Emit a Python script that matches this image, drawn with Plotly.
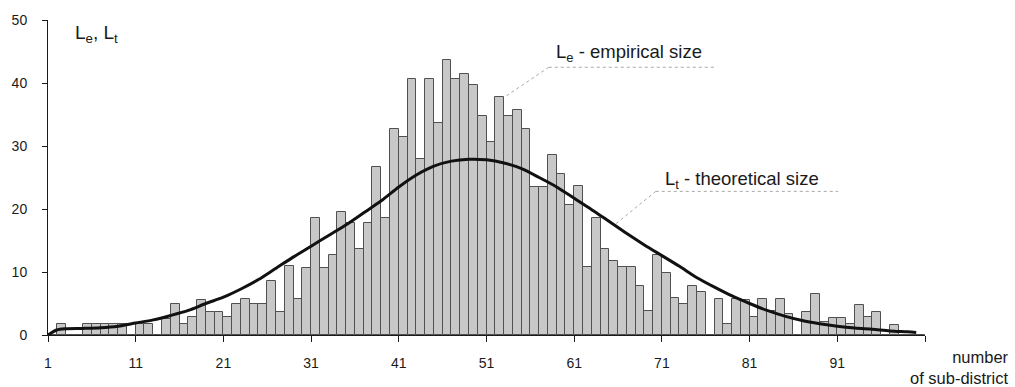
import plotly.graph_objects as go

# ---- data ----
sub_district = list(range(1, 101))
Le = [0, 1.7, 0, 0, 1.7, 1.7, 1.7, 1.7, 1.7, 0,
      1.7, 1.7, 0, 2.5, 4.9, 1.7, 2.8, 5.6, 3.7, 3.7,
      2.8, 4.9, 5.7, 4.9, 4.9, 8.6, 3.7, 11.0, 5.7, 10.7,
      18.5, 10.7, 12.7, 19.6, 17.7, 13.7, 17.7, 26.6, 18.6, 32.7,
      31.5, 40.6, 28.0, 40.6, 33.6, 43.7, 40.6, 41.5, 39.7, 34.7,
      30.7, 37.7, 34.8, 35.7, 32.7, 23.5, 23.5, 28.6, 25.5, 20.7,
      23.6, 10.8, 18.6, 13.6, 11.7, 10.8, 10.8, 7.8, 3.75, 12.7,
      9.9, 5.8, 4.95, 7.8, 6.8, 0, 5.7, 1.7, 5.7, 5.5,
      2.9, 5.7, 3.8, 5.7, 3.3, 0, 3.7, 6.5, 2.0, 2.75,
      2.75, 1.7, 4.7, 2.8, 3.6, 0, 1.6, 0, 0, 0]

Lt_x = [1, 2, 3, 5, 7, 9, 11, 13, 15, 17, 19, 21, 23, 25, 27, 29, 31, 33, 35, 37,
        39, 41, 43, 45, 47, 49, 51, 53, 55, 57, 59, 61, 63, 65, 67, 69, 71, 73, 75,
        77, 79, 81, 83, 85, 87, 89, 91, 93, 95, 97, 99, 100]
Lt = [0, 0.8, 1.0, 1.05, 1.15, 1.4, 1.9, 2.4, 3.1, 3.9, 5.0, 6.0, 7.3, 8.8, 10.6, 12.4,
      14.1, 15.8, 17.5, 19.4, 21.3, 23.5, 25.4, 26.8, 27.6, 27.9, 27.8, 27.3, 26.4, 25.0,
      23.5, 21.7, 19.9, 18.0, 16.1, 14.3, 12.6, 10.9, 9.1, 7.6, 6.2, 5.0, 3.9, 3.0, 2.3,
      1.8, 1.4, 1.1, 0.9, 0.65, 0.5, 0.4]

x_ticks = [1, 11, 21, 31, 41, 51, 61, 71, 81, 91, 101]
x_ticktext = ["1", "11", "21", "31", "41", "51", "61", "71", "81", "91", ""]
y_ticks = [0, 10, 20, 30, 40, 50]

FONT = "Liberation Sans, Arial, sans-serif"
INK = "#1a1a1a"

fig = go.Figure()
fig.add_trace(go.Bar(
    x=sub_district, y=Le, width=1, offset=0,
    marker=dict(color="#c8c8c8", line=dict(color="#505050", width=1)),
    hoverinfo="skip"))
fig.add_trace(go.Scatter(
    x=Lt_x, y=Lt, mode="lines",
    line=dict(color="#111111", width=3, shape="spline", smoothing=0.8),
    hoverinfo="skip"))

# leader lines
le_idx = 52
lt_end_x = 65.7
lt_end_y = 17.6
lead = dict(color="#a8a8a8", width=1, dash="dot")
shapes = [
    dict(type="line", xref="x", yref="y", x0=58.1, y0=42.5, x1=77.1, y1=42.5, line=lead),
    dict(type="line", xref="x", yref="y", x0=58.1, y0=42.5, x1=le_idx + 1, y1=Le[le_idx - 1], line=lead),
    dict(type="line", xref="x", yref="y", x0=70.3, y0=22.8, x1=91.1, y1=22.8, line=lead),
    dict(type="line", xref="x", yref="y", x0=70.3, y0=22.8, x1=lt_end_x, y1=lt_end_y, line=lead),
]

annotations = [
    dict(text="L<sub>e</sub> - empirical size", xref="x", yref="y", x=58.7, y=44.8,
         xanchor="left", yanchor="middle", showarrow=False,
         font=dict(family=FONT, size=18.5, color=INK)),
    dict(text="L<sub>t</sub> - theoretical size", xref="x", yref="y", x=71.1, y=24.6,
         xanchor="left", yanchor="middle", showarrow=False,
         font=dict(family=FONT, size=18.5, color=INK)),
    dict(text="L<sub>e</sub>, L<sub>t</sub>", xref="x", yref="y", x=3.8, y=47.8,
         xanchor="left", yanchor="middle", showarrow=False,
         font=dict(family=FONT, size=19, color=INK)),
    dict(text="number<br>of sub-district", xref="paper", yref="paper", x=1.098, y=-0.036,
         xanchor="right", yanchor="top", align="right", showarrow=False,
         font=dict(family=FONT, size=16.5, color=INK)),
]

fig.update_layout(
    width=1015, height=387,
    margin=dict(l=47, r=90, t=15, b=52),
    paper_bgcolor="white", plot_bgcolor="white",
    showlegend=False, bargap=0,
    font=dict(family=FONT, size=14, color=INK),
    xaxis=dict(range=[1, 101], tickmode="array", tickvals=x_ticks, ticktext=x_ticktext,
               ticks="outside", ticklen=6, tickwidth=1, tickcolor=INK,
               showline=True, linecolor=INK, linewidth=1,
               showgrid=False, zeroline=False, ticklabelstandoff=9,
               tickfont=dict(family=FONT, size=14, color=INK)),
    yaxis=dict(range=[0, 50], tickmode="array", tickvals=y_ticks,
               ticks="outside", ticklen=5, tickwidth=1, tickcolor=INK,
               showline=True, linecolor=INK, linewidth=1,
               showgrid=False, zeroline=False, ticklabelstandoff=12,
               tickfont=dict(family=FONT, size=14, color=INK)),
    yaxis2=dict(range=[0, 50], overlaying="y", matches="y", tickmode="array",
                tickvals=y_ticks, ticks="inside", ticklen=6, tickwidth=1,
                tickcolor=INK, showticklabels=False, showline=False,
                showgrid=False, zeroline=False),
    shapes=shapes,
    annotations=annotations,
)

fig.write_html("out.html")
